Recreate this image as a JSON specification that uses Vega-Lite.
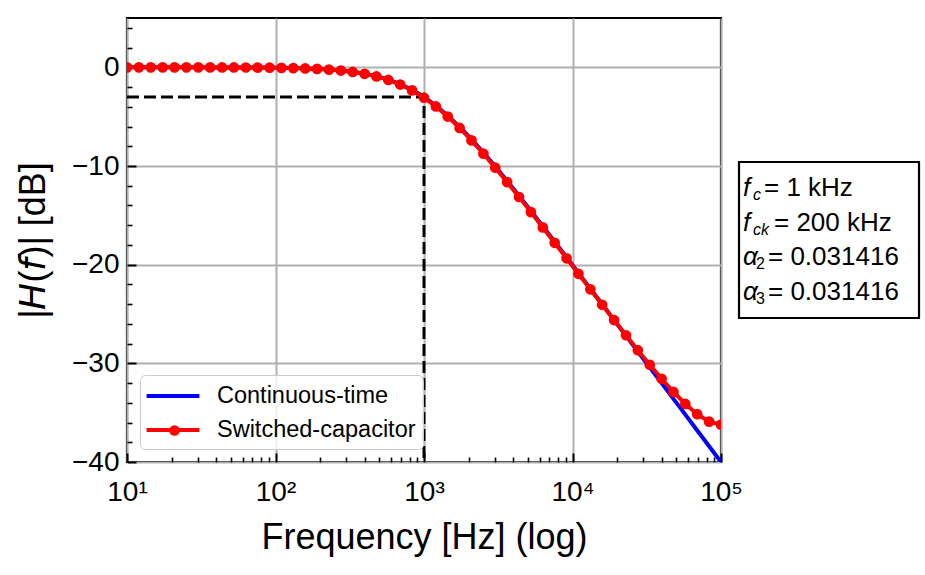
{
  "$schema": "https://vega.github.io/schema/vega-lite/v6.json",
  "width": 594,
  "height": 444,
  "autosize": {"type": "none"},
  "padding": {"left": 127, "top": 18, "right": 204, "bottom": 113},
  "background": "white",
  "config": {
    "font": "Liberation Sans",
    "view": {"stroke": "black", "strokeWidth": 2.2},
    "axis": {
      "labelFont": "Liberation Sans", "titleFont": "Liberation Sans",
      "labelColor": "black", "titleColor": "black", "tickColor": "black",
      "gridColor": "#b0b0b0", "gridWidth": 2, "domain": false,
      "labelFontSize": 28, "titleFontSize": 36, "titleFontWeight": "normal",
      "labelOverlap": false
    }
  },
  "datasets": {
    "curves": [
      {"series": "Continuous-time", "f": 10, "db": -0.000},
      {"series": "Continuous-time", "f": 12.0226, "db": -0.001},
      {"series": "Continuous-time", "f": 14.4544, "db": -0.001},
      {"series": "Continuous-time", "f": 17.378, "db": -0.001},
      {"series": "Continuous-time", "f": 20.893, "db": -0.002},
      {"series": "Continuous-time", "f": 25.1189, "db": -0.003},
      {"series": "Continuous-time", "f": 30.1995, "db": -0.004},
      {"series": "Continuous-time", "f": 36.3078, "db": -0.006},
      {"series": "Continuous-time", "f": 43.6516, "db": -0.008},
      {"series": "Continuous-time", "f": 52.4807, "db": -0.012},
      {"series": "Continuous-time", "f": 63.0957, "db": -0.017},
      {"series": "Continuous-time", "f": 75.8578, "db": -0.025},
      {"series": "Continuous-time", "f": 91.2011, "db": -0.036},
      {"series": "Continuous-time", "f": 109.648, "db": -0.052},
      {"series": "Continuous-time", "f": 131.826, "db": -0.075},
      {"series": "Continuous-time", "f": 158.489, "db": -0.108},
      {"series": "Continuous-time", "f": 190.546, "db": -0.155},
      {"series": "Continuous-time", "f": 229.087, "db": -0.222},
      {"series": "Continuous-time", "f": 275.423, "db": -0.317},
      {"series": "Continuous-time", "f": 331.131, "db": -0.452},
      {"series": "Continuous-time", "f": 398.107, "db": -0.639},
      {"series": "Continuous-time", "f": 478.63, "db": -0.896},
      {"series": "Continuous-time", "f": 575.44, "db": -1.242},
      {"series": "Continuous-time", "f": 691.831, "db": -1.699},
      {"series": "Continuous-time", "f": 831.764, "db": -2.284},
      {"series": "Continuous-time", "f": 1000, "db": -3.010},
      {"series": "Continuous-time", "f": 1202.26, "db": -3.884},
      {"series": "Continuous-time", "f": 1445.44, "db": -4.899},
      {"series": "Continuous-time", "f": 1737.8, "db": -6.042},
      {"series": "Continuous-time", "f": 2089.3, "db": -7.296},
      {"series": "Continuous-time", "f": 2511.89, "db": -8.639},
      {"series": "Continuous-time", "f": 3019.95, "db": -10.052},
      {"series": "Continuous-time", "f": 3630.78, "db": -11.518},
      {"series": "Continuous-time", "f": 4365.16, "db": -13.022},
      {"series": "Continuous-time", "f": 5248.07, "db": -14.555},
      {"series": "Continuous-time", "f": 6309.57, "db": -16.108},
      {"series": "Continuous-time", "f": 7585.78, "db": -17.675},
      {"series": "Continuous-time", "f": 9120.11, "db": -19.252},
      {"series": "Continuous-time", "f": 10964.8, "db": -20.836},
      {"series": "Continuous-time", "f": 13182.6, "db": -22.425},
      {"series": "Continuous-time", "f": 15848.9, "db": -24.017},
      {"series": "Continuous-time", "f": 19054.6, "db": -25.612},
      {"series": "Continuous-time", "f": 22908.7, "db": -27.208},
      {"series": "Continuous-time", "f": 27542.3, "db": -28.806},
      {"series": "Continuous-time", "f": 33113.1, "db": -30.404},
      {"series": "Continuous-time", "f": 39810.7, "db": -32.003},
      {"series": "Continuous-time", "f": 47863.0, "db": -33.602},
      {"series": "Continuous-time", "f": 57544.0, "db": -35.201},
      {"series": "Continuous-time", "f": 69183.1, "db": -36.801},
      {"series": "Continuous-time", "f": 83176.4, "db": -38.400},
      {"series": "Continuous-time", "f": 100000, "db": -40.000},
      {"series": "Switched-capacitor", "f": 10, "db": -0.000},
      {"series": "Switched-capacitor", "f": 12.0226, "db": -0.001},
      {"series": "Switched-capacitor", "f": 14.4544, "db": -0.001},
      {"series": "Switched-capacitor", "f": 17.378, "db": -0.001},
      {"series": "Switched-capacitor", "f": 20.893, "db": -0.002},
      {"series": "Switched-capacitor", "f": 25.1189, "db": -0.003},
      {"series": "Switched-capacitor", "f": 30.1995, "db": -0.004},
      {"series": "Switched-capacitor", "f": 36.3078, "db": -0.006},
      {"series": "Switched-capacitor", "f": 43.6516, "db": -0.009},
      {"series": "Switched-capacitor", "f": 52.4807, "db": -0.012},
      {"series": "Switched-capacitor", "f": 63.0957, "db": -0.018},
      {"series": "Switched-capacitor", "f": 75.8578, "db": -0.026},
      {"series": "Switched-capacitor", "f": 91.2011, "db": -0.037},
      {"series": "Switched-capacitor", "f": 109.648, "db": -0.054},
      {"series": "Switched-capacitor", "f": 131.826, "db": -0.077},
      {"series": "Switched-capacitor", "f": 158.489, "db": -0.111},
      {"series": "Switched-capacitor", "f": 190.546, "db": -0.160},
      {"series": "Switched-capacitor", "f": 229.087, "db": -0.229},
      {"series": "Switched-capacitor", "f": 275.423, "db": -0.327},
      {"series": "Switched-capacitor", "f": 331.131, "db": -0.465},
      {"series": "Switched-capacitor", "f": 398.107, "db": -0.658},
      {"series": "Switched-capacitor", "f": 478.63, "db": -0.921},
      {"series": "Switched-capacitor", "f": 575.44, "db": -1.276},
      {"series": "Switched-capacitor", "f": 691.831, "db": -1.743},
      {"series": "Switched-capacitor", "f": 831.764, "db": -2.339},
      {"series": "Switched-capacitor", "f": 1000, "db": -3.078},
      {"series": "Switched-capacitor", "f": 1202.26, "db": -3.963},
      {"series": "Switched-capacitor", "f": 1445.44, "db": -4.989},
      {"series": "Switched-capacitor", "f": 1737.8, "db": -6.143},
      {"series": "Switched-capacitor", "f": 2089.3, "db": -7.404},
      {"series": "Switched-capacitor", "f": 2511.89, "db": -8.753},
      {"series": "Switched-capacitor", "f": 3019.95, "db": -10.170},
      {"series": "Switched-capacitor", "f": 3630.78, "db": -11.638},
      {"series": "Switched-capacitor", "f": 4365.16, "db": -13.143},
      {"series": "Switched-capacitor", "f": 5248.07, "db": -14.675},
      {"series": "Switched-capacitor", "f": 6309.57, "db": -16.225},
      {"series": "Switched-capacitor", "f": 7585.78, "db": -17.787},
      {"series": "Switched-capacitor", "f": 9120.11, "db": -19.355},
      {"series": "Switched-capacitor", "f": 10964.8, "db": -20.927},
      {"series": "Switched-capacitor", "f": 13182.6, "db": -22.497},
      {"series": "Switched-capacitor", "f": 15848.9, "db": -24.062},
      {"series": "Switched-capacitor", "f": 19054.6, "db": -25.616},
      {"series": "Switched-capacitor", "f": 22908.7, "db": -27.154},
      {"series": "Switched-capacitor", "f": 27542.3, "db": -28.668},
      {"series": "Switched-capacitor", "f": 33113.1, "db": -30.143},
      {"series": "Switched-capacitor", "f": 39810.7, "db": -31.564},
      {"series": "Switched-capacitor", "f": 47863.0, "db": -32.902},
      {"series": "Switched-capacitor", "f": 57544.0, "db": -34.119},
      {"series": "Switched-capacitor", "f": 69183.1, "db": -35.153},
      {"series": "Switched-capacitor", "f": 83176.4, "db": -35.906},
      {"series": "Switched-capacitor", "f": 100000, "db": -36.213}
    ],
    "cutoff": [
      {"order": 1, "f": 10, "db": -3.0103},
      {"order": 2, "f": 1000, "db": -3.0103},
      {"order": 3, "f": 1000, "db": -40}
    ],
    "notes": [
      {"line": 1, "sym": "f", "sub": "c", "rest": "= 1 kHz"},
      {"line": 2, "sym": "f", "sub": "ck", "rest": "= 200 kHz"},
      {"line": 3, "sym": "α", "sub": "2", "rest": "= 0.031416"},
      {"line": 4, "sym": "α", "sub": "3", "rest": "= 0.031416"}
    ]
  },
  "layer": [
    {
      "encoding": {
        "x": {
          "field": "f", "type": "quantitative",
          "scale": {"type": "log", "domain": [10, 100000]},
          "axis": {
            "title": "Frequency [Hz] (log)",
            "values": [10,20,30,40,50,60,70,80,90,100,200,300,400,500,600,700,800,900,1000,2000,3000,4000,5000,6000,7000,8000,9000,10000,20000,30000,40000,50000,60000,70000,80000,90000,100000],
            "labelExpr": "datum.value == 10 ? '10¹' : datum.value == 100 ? '10²' : datum.value == 1000 ? '10³' : datum.value == 10000 ? '10⁴' : datum.value == 100000 ? '10⁵' : ''",
            "labelOverlap": false,
            "labelFlush": false,
            "labelPadding": 25,
            "titlePadding": 10,
            "grid": true,
            "gridOpacity": {"condition": {"test": "abs(log(datum.value)/LN10 - round(log(datum.value)/LN10)) < 0.000001", "value": 1}, "value": 0},
            "tickSize": {"condition": {"test": "abs(log(datum.value)/LN10 - round(log(datum.value)/LN10)) < 0.000001", "value": -9}, "value": -5},
            "tickWidth": {"condition": {"test": "abs(log(datum.value)/LN10 - round(log(datum.value)/LN10)) < 0.000001", "value": 2}, "value": 1.6}
          }
        },
        "y": {
          "field": "db", "type": "quantitative",
          "scale": {"domain": [-40, 5], "nice": false, "zero": false},
          "axis": {
            "title": "|𝘏(𝘧)| [dB]",
            "values": [-40,-38,-36,-34,-32,-30,-28,-26,-24,-22,-20,-18,-16,-14,-12,-10,-8,-6,-4,-2,0,2,4],
            "labelExpr": "datum.value == 0 || datum.value == -10 || datum.value == -20 || datum.value == -30 || datum.value == -40 ? format(datum.value, 'd') : ''",
            "labelOverlap": false,
            "labelFlush": false,
            "labelPadding": 17,
            "titlePadding": 19,
            "grid": true,
            "gridOpacity": {"condition": {"test": "datum.value == 0 || datum.value == -10 || datum.value == -20 || datum.value == -30 || datum.value == -40", "value": 1}, "value": 0},
            "tickSize": {"condition": {"test": "datum.value == 0 || datum.value == -10 || datum.value == -20 || datum.value == -30 || datum.value == -40", "value": -9}, "value": -5},
            "tickWidth": {"condition": {"test": "datum.value == 0 || datum.value == -10 || datum.value == -20 || datum.value == -30 || datum.value == -40", "value": 2}, "value": 1.6}
          }
        }
      },
      "layer": [
        {
          "data": {"name": "cutoff"},
          "mark": {"type": "line", "color": "black", "strokeWidth": 3, "strokeDash": [12, 5]},
          "encoding": {
            "order": {"field": "order", "type": "quantitative"}
          }
        },
        {
          "data": {"name": "cutoff"},
          "transform": [{"filter": "datum.order == 1"}],
          "mark": {"type": "rect", "fill": "white", "stroke": "black", "strokeWidth": 2.2, "width": 180, "height": 156},
          "encoding": {
            "x": {"datum": 533800, "type": "quantitative"},
            "y": {"datum": -17.5, "type": "quantitative"}
          }
        },
        {
          "data": {"name": "curves"},
          "layer": [
            {
              "mark": {"type": "line", "strokeWidth": 4, "clip": true},
              "encoding": {
                "color": {
                  "field": "series", "type": "nominal",
                  "scale": {"domain": ["Continuous-time", "Switched-capacitor"], "range": ["#0000ff", "#ff0000"]},
                  "legend": {
                    "title": null,
                    "orient": "bottom-left",
                    "offset": 13,
                    "padding": 7,
                    "rowPadding": 8,
                    "symbolType": "M-2.2,0L2.2,0",
                    "symbolSize": 576,
                    "symbolStrokeWidth": 4,
                    "symbolOffset": 12,
                    "labelOffset": 30,
                    "labelFontSize": 23.5,
                    "labelFont": "Liberation Sans",
                    "labelColor": "black",
                    "labelLimit": 400,
                    "fillColor": "rgba(255,255,255,0.8)",
                    "strokeColor": "#cccccc",
                    "cornerRadius": 5
                  }
                }
              }
            },
            {
              "transform": [{"filter": "datum.series == 'Switched-capacitor'"}],
              "mark": {"type": "circle", "size": 115, "opacity": 1, "clip": true},
              "encoding": {
                "fill": {
                  "field": "series", "type": "nominal",
                  "scale": {"domain": ["Switched-capacitor"], "range": ["#ff0000"]},
                  "legend": {
                    "title": null,
                    "orient": "none",
                    "legendX": 42,
                    "legendY": 407,
                    "padding": 0,
                    "symbolType": "circle",
                    "symbolSize": 110,
                    "symbolStrokeWidth": 0,
                    "symbolOpacity": 1,
                    "labelOpacity": 0,
                    "labelFontSize": 1
                  }
                }
              }
            }
          ]
        }
      ]
    },
    {
      "data": {"name": "notes"},
      "encoding": {
        "x": {"datum": 100000, "type": "quantitative"},
        "y": {"field": "line", "type": "ordinal", "scale": {"type": "point", "domain": [1, 2, 3, 4], "range": [170, 274], "padding": 0}, "axis": null}
      },
      "layer": [
        {
          "mark": {"type": "text", "align": "left", "baseline": "middle", "dx": 22, "fontSize": 26, "fontStyle": "italic", "font": "Liberation Sans", "color": "black"},
          "encoding": {"text": {"field": "sym"}}
        },
        {
          "transform": [{"filter": "datum.line <= 2"}],
          "mark": {"type": "text", "align": "left", "baseline": "middle", "dx": 32, "dy": 7, "fontSize": 16, "fontStyle": "italic", "font": "Liberation Sans", "color": "black"},
          "encoding": {"text": {"field": "sub"}}
        },
        {
          "transform": [{"filter": "datum.line >= 3"}],
          "mark": {"type": "text", "align": "left", "baseline": "middle", "dx": 35, "dy": 7, "fontSize": 16, "font": "Liberation Sans", "color": "black"},
          "encoding": {"text": {"field": "sub"}}
        },
        {
          "transform": [{"filter": "datum.line == 1"}],
          "mark": {"type": "text", "align": "left", "baseline": "middle", "dx": 43, "fontSize": 26, "font": "Liberation Sans", "color": "black"},
          "encoding": {"text": {"field": "rest"}}
        },
        {
          "transform": [{"filter": "datum.line == 2"}],
          "mark": {"type": "text", "align": "left", "baseline": "middle", "dx": 53, "fontSize": 26, "font": "Liberation Sans", "color": "black"},
          "encoding": {"text": {"field": "rest"}}
        },
        {
          "transform": [{"filter": "datum.line >= 3"}],
          "mark": {"type": "text", "align": "left", "baseline": "middle", "dx": 47, "fontSize": 26, "font": "Liberation Sans", "color": "black"},
          "encoding": {"text": {"field": "rest"}}
        }
      ]
    }
  ],
  "resolve": {"scale": {"y": "independent"}}
}
